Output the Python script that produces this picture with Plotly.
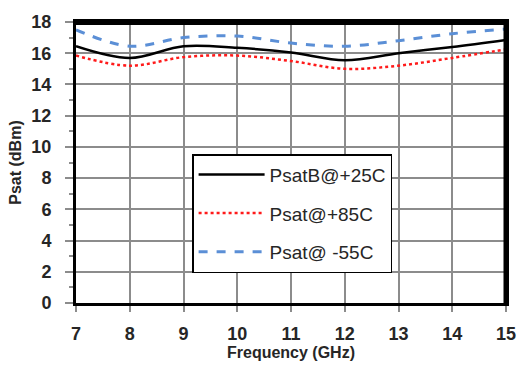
import plotly.graph_objects as go

freq = [7, 8, 9, 10, 11, 12, 13, 14, 15]
psat_25 = [16.45, 15.7, 16.45, 16.35, 16.05, 15.55, 16.0, 16.4, 16.85]
psat_85 = [15.85, 15.2, 15.75, 15.85, 15.5, 15.0, 15.2, 15.7, 16.25]
psat_m55 = [17.5, 16.45, 17.0, 17.1, 16.65, 16.45, 16.8, 17.25, 17.55]

names = ["PsatB@+25C", "Psat@+85C", "Psat@ -55C"]

fig = go.Figure()
fig.add_trace(go.Scatter(x=freq, y=psat_25, name=names[0], mode="lines", legendgroup="a",
                         line=dict(color="black", width=2.5, shape="spline")))
fig.add_trace(go.Scatter(x=freq, y=psat_85, name=names[1], mode="lines", legendgroup="b",
                         line=dict(color="#ff1a1a", width=2.5, dash="dot", shape="spline")))
fig.add_trace(go.Scatter(x=freq, y=psat_m55, name=names[2], mode="lines", legendgroup="c",
                         line=dict(color="#5b8fd6", width=3, dash="dash", shape="spline")))

tickfont = dict(family="Liberation Sans, Arial", size=18, color="#262626", weight="bold")
titlefont = dict(family="Liberation Sans, Arial", size=16, color="#262626", weight="bold")

fig.update_layout(
    width=528, height=367,
    margin=dict(l=76, r=18, t=20, b=60),
    paper_bgcolor="white", plot_bgcolor="white",
    font=dict(family="Liberation Sans, Arial", color="#262626"),
    showlegend=True,
    legend=dict(x=0.27, y=0.53, xanchor="left", yanchor="top",
                bgcolor="white", bordercolor="black", borderwidth=1.5,
                font=dict(size=19, color="#262626"),
                traceorder="grouped", tracegroupgap=11, itemwidth=66),
    xaxis=dict(range=[7, 15], tickvals=freq, ticktext=[str(f) for f in freq],
               showgrid=True, gridcolor="#8c8c8c", gridwidth=1.5,
               showline=True, linecolor="black", linewidth=3, mirror=True,
               ticks="outside", ticklen=6, tickcolor="#8c8c8c", tickwidth=1.5,
               ticklabelstandoff=6,
               tickfont=tickfont, zeroline=False,
               title=dict(text="Frequency (GHz)", font=titlefont, standoff=0)),
    yaxis=dict(range=[0, 18], tickvals=list(range(0, 19, 2)),
               showgrid=True, gridcolor="#8c8c8c", gridwidth=1.5,
               showline=True, linecolor="black", linewidth=3, mirror=True,
               ticks="outside", ticklen=8, tickcolor="#8c8c8c", tickwidth=1.5,
               ticklabelstandoff=10,
               minor=dict(tickvals=list(range(1, 18, 2)), ticks="outside", ticklen=4, tickcolor="#8c8c8c"),
               tickfont=tickfont, zeroline=False,
               title=dict(text="Psat (dBm)", font=titlefont, standoff=6)),
)

# thick top and right frame edges
fig.add_shape(type="line", xref="paper", yref="paper", x0=0, x1=1, y0=1, y1=1,
              line=dict(color="black", width=6))
fig.add_shape(type="line", xref="paper", yref="paper", x0=1, x1=1, y0=0, y1=1,
              line=dict(color="black", width=5))

fig.write_html("out.html")
